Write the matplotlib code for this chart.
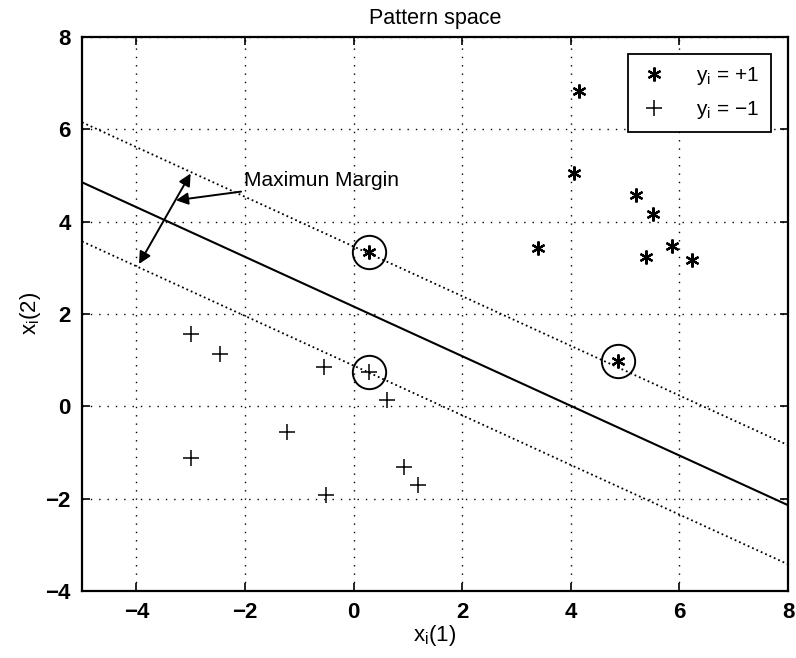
import numpy as np
import matplotlib.pyplot as plt

plt.rcParams['font.family'] = ['Liberation Sans', 'DejaVu Sans']
plt.rcParams['mathtext.fontset'] = 'custom'
plt.rcParams['mathtext.rm'] = 'Liberation Sans'
plt.rcParams['mathtext.it'] = 'Liberation Sans'

# class +1 samples
pos_x1 = [4.15, 4.05, 5.2, 5.52, 3.4, 5.39, 5.86, 6.23, 0.28, 4.87]
pos_x2 = [6.82, 5.06, 4.57, 4.17, 3.43, 3.23, 3.46, 3.16, 3.35, 0.97]

# class -1 samples
neg_x1 = [-3.0, -2.46, -0.55, 0.28, 0.62, -1.23, -3.0, -0.5, 0.92, 1.18]
neg_x2 = [1.56, 1.12, 0.85, 0.74, 0.13, -0.56, -1.13, -1.93, -1.32, -1.71]

# support vectors
sv_x1 = [0.28, 4.87, 0.28]
sv_x2 = [3.35, 0.97, 0.74]

# separating hyperplane and margins: x2 = slope * x1 + offset
slope = -0.538
offset_center = 2.16
offset_upper = 3.46
offset_lower = 0.88

xs = np.array([-5, 8])

fig = plt.figure(figsize=(7.96, 6.58), dpi=100)
ax = fig.add_axes([0.103, 0.102, 0.887, 0.842])

ax.plot(xs, slope * xs + offset_center, 'k-', lw=1.5)
ax.plot(xs, slope * xs + offset_upper, 'k:', lw=1.3)
ax.plot(xs, slope * xs + offset_lower, 'k:', lw=1.3)

asterisk = (6, 2, 0)
h1, = ax.plot(pos_x1, pos_x2, ls='none', marker=asterisk, ms=10, mec='k', mew=1.6,
              label=r'$\mathregular{y_i}$ = +1')
h2, = ax.plot(neg_x1, neg_x2, ls='none', marker='+', ms=11, mec='k', mew=1.1,
              label=r'$\mathregular{y_i}$ = $-$1')
ax.plot(sv_x1, sv_x2, ls='none', marker='o', ms=24, mfc='none', mec='k', mew=1.4)

# margin width arrow
ax.annotate('', xy=(-3.95, 3.08), xytext=(-3.0, 5.04),
            arrowprops=dict(arrowstyle='<|-|>', color='k', lw=1.4,
                            mutation_scale=18, shrinkA=0, shrinkB=0))
ax.annotate('Maximun Margin', xy=(-3.27, 4.46), xytext=(-2.02, 4.88),
            fontsize=15, va='center', ha='left',
            arrowprops=dict(arrowstyle='-|>', color='k', lw=1.4,
                            mutation_scale=18, shrinkA=0, shrinkB=0))

ax.set_xlim(-5, 8)
ax.set_ylim(-4, 8)
ax.set_xticks(np.arange(-4, 9, 2))
ax.set_yticks(np.arange(-4, 9, 2))
ax.grid(True, color='k', ls=(0, (1, 5)), lw=1.0)
ax.tick_params(direction='in', length=6, width=1.2, labelsize=16,
               top=True, right=True, pad=8)
for lab in ax.get_xticklabels() + ax.get_yticklabels():
    lab.set_fontweight('bold')
for s in ax.spines.values():
    s.set_linewidth(1.6)

ax.set_title('Pattern space', fontsize=15.5, pad=9)
ax.set_xlabel(r'$\mathregular{x_i}$(1)', fontsize=16, labelpad=0)
ax.set_ylabel(r'$\mathregular{x_i}$(2)', fontsize=16, labelpad=2)

leg = ax.legend(handles=[h1, h2], loc='upper right', fontsize=15,
                fancybox=False, edgecolor='k', framealpha=1,
                handlelength=1.4, handletextpad=1.3, borderpad=0.55,
                labelspacing=0.55, bbox_to_anchor=(0.99, 0.988))
leg.get_frame().set_linewidth(1.3)

fig.savefig('out.png', dpi=100)
